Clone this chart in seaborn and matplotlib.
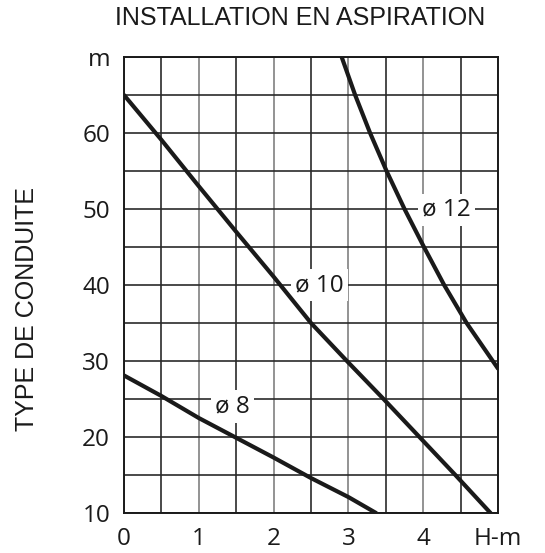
import matplotlib
matplotlib.use("Agg")
import matplotlib.pyplot as plt
import seaborn as sns
import pandas as pd

# Curves: suction height H (m) vs. pipe length (m) for each pipe diameter
h_d8 = [0, 0.5, 1.0, 1.5, 2.0, 2.5, 3.0, 3.37]
len_d8 = [28.1, 25.4, 22.5, 19.9, 17.3, 14.6, 12.1, 10]

h_d10 = [0, 0.5, 1.0, 1.5, 2.0, 2.5, 2.98, 3.47, 3.95, 4.43, 4.9]
len_d10 = [65, 59.1, 53.0, 47.0, 41.1, 35, 30, 25, 20, 15, 10]

h_d12 = [2.91, 3.09, 3.29, 3.51, 3.75, 4.01, 4.28, 4.58, 5.0]
len_d12 = [70, 65, 60, 55, 50, 45, 40, 35, 29]

curve_names = ["ø 8", "ø 10", "ø 12"]
label_pos = [(1.45, 24.0), (2.61, 40.0), (4.31, 49.9)]

x_ticks = [0, 1, 2, 3, 4, 5]
x_labels = ["0", "1", "2", "3", "4", "H-m"]
y_ticks = [10, 20, 30, 40, 50, 60, 70]
y_labels = ["10", "20", "30", "40", "50", "60", "m"]

frames = []
for name, xs, ys in zip(curve_names, [h_d8, h_d10, h_d12], [len_d8, len_d10, len_d12]):
    frames.append(pd.DataFrame({"H": xs, "L": ys, "pipe": name}))
df = pd.concat(frames, ignore_index=True)

sns.set_theme(style="white")
plt.rcParams["font.family"] = ["Open Sans", "DejaVu Sans"]

fig = plt.figure(figsize=(5.45, 5.53), dpi=100)
ax = fig.add_axes([0.2275, 0.0723, 0.6863, 0.8246])

sns.lineplot(data=df, x="H", y="L", units="pipe", estimator=None, sort=False,
             color="#1a1a1a", linewidth=3.0, ax=ax, legend=False, zorder=3)

ax.set_xlim(0, 5)
ax.set_ylim(10, 70)
ax.set_xticks(x_ticks)
ax.set_xticklabels(x_labels)
ax.set_xticks([0.5, 1.5, 2.5, 3.5, 4.5], minor=True)
ax.set_yticks(y_ticks)
ax.set_yticklabels(y_labels)
ax.set_yticks([15, 25, 35, 45, 55, 65], minor=True)

ax.grid(which="major", axis="x", color="#8a8a8a", linewidth=1.3, zorder=1)
ax.grid(which="minor", axis="x", color="#2a2a2a", linewidth=1.2, zorder=1)
ax.grid(which="both", axis="y", color="#2a2a2a", linewidth=1.2, zorder=1)
ax.set_axisbelow(True)

ax.tick_params(axis="both", which="both", length=0, labelsize=17.5, colors="#1a1a1a")
ax.tick_params(axis="x", pad=10)
ax.tick_params(axis="y", pad=10)
for s in ax.spines.values():
    s.set_color("#1a1a1a")
    s.set_linewidth(1.4)

ax.set_xlabel("")
ax.set_ylabel("")

# Curve labels on white patches that interrupt the grid, kept under the curves
for name, (lx, ly) in zip(curve_names, label_pos):
    ax.text(lx, ly, name, ha="center", va="center", fontsize=17.5, color="#1a1a1a",
            zorder=2.5, bbox=dict(facecolor="white", edgecolor="none", pad=3))

fig.text(0.55, 0.967, "INSTALLATION EN ASPIRATION", ha="center", va="center",
         fontsize=18, family=["Liberation Sans", "DejaVu Sans"], color="#1a1a1a")
fig.text(0.05, 0.441, "TYPE DE CONDUITE", ha="center", va="center", rotation=90,
         fontsize=18, family=["Liberation Sans", "DejaVu Sans"], color="#1a1a1a")

fig.savefig("out.png", dpi=100)
